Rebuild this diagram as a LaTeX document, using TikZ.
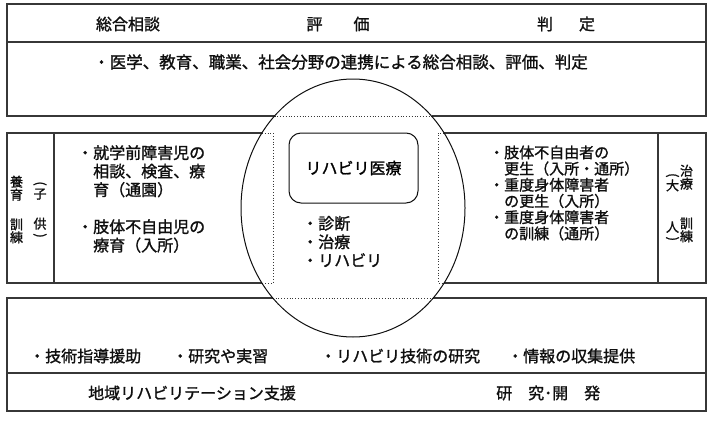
\documentclass[tikz,border=0pt]{standalone}
\usepackage{fontspec}
\setmainfont[FakeBold=1.3]{Noto Sans CJK JP}
\usepackage{graphicx}
\usepackage{tikz}
\usetikzlibrary{shapes.geometric}
\definecolor{framegray}{RGB}{55,55,55}
\definecolor{inkblack}{RGB}{15,15,15}
\tikzset{
  frame/.style={draw=framegray,line width=1.2pt},
  dotframe/.style={draw=framegray,line width=0.8pt,dotted},
  ring/.style={ellipse,draw=inkblack,line width=1pt,
    minimum width=224pt,minimum height=258pt,inner sep=0pt},
  medbox/.style={draw=inkblack,line width=1pt,rounded corners=12pt,
    minimum width=129pt,minimum height=70pt,inner sep=0pt,
    font=\fontsize{16}{18}\selectfont},
  head/.style={font=\fontsize{16}{18}\selectfont,inner sep=0pt,text=inkblack},
  txt/.style={font=\fontsize{16}{18.5}\selectfont,align=left,
    inner sep=0pt,text=inkblack},
  smalltxt/.style={font=\fontsize{15}{16.2}\selectfont,align=left,
    inner sep=0pt,text=inkblack},
  vlab/.style={font=\fontsize{13}{11}\selectfont,align=center,
    inner sep=0pt,text=inkblack}
}
\newcommand{\vopen}{\rotatebox[origin=c]{-90}{(}}
\newcommand{\vclose}{\rotatebox[origin=c]{-90}{)}}

\begin{document}
\begin{tikzpicture}[x=1pt,y=-1pt]
  \useasboundingbox (0,0) rectangle (714,423);
  % top box
  \draw[frame] (274.5,116) -- (7,116) -- (7,4) -- (706,4) -- (706,116) -- (431.5,116);
  \draw[dotframe] (274.5,116) -- (431.5,116);
  \draw[frame] (7,42) -- (706,42);
  % middle row
  \draw[frame] (262,133) -- (7,133) -- (7,283) -- (262,283);
  \draw[dotframe] (262,133) -- (273,133) -- (273,283) -- (262,283);
  \draw[frame] (54,133) -- (54,283);
  \draw[frame] (444,133) -- (706,133) -- (706,283) -- (444,283);
  \draw[dotframe] (444,133) -- (438,133) -- (438,283) -- (444,283);
  \draw[frame] (658,133) -- (658,283);
  % bottom box
  \draw[frame] (272.8,298) -- (7,298) -- (7,411) -- (706,411) -- (706,298) -- (433.2,298);
  \draw[dotframe] (272.8,298) -- (433.2,298);
  \draw[frame] (7,373) -- (706,373);
  % ellipse and medical box
  \node[ring] (ring) at (353,208) {};
  \node[medbox] (medical) at (353.5,168) {リハビリ医療};
  % top texts
  \node[head] (consult) at (128,24) {総合相談};
  \node[head] (assess) at (338,24) {評\hspace{31pt}価};
  \node[head] (judge) at (566,24) {判\hspace{26pt}定};
  \node[head,font=\fontsize{16.5}{18}\selectfont] (linkage) at (340.5,62)
    {・医学、教育、職業、社会分野の連携による総合相談、評価、判定};
  % middle texts
  \node[vlab] (childa) at (16.5,209.5) {養\\育\\[17pt]訓\\練};
  \node[vlab] (childb) at (40,210.5) {\vopen\\子\\[17pt]供\\\vclose};
  \node[txt,anchor=west] (childcare) at (77,199)
    {・就学前障害児の\\　相談、検査、療\\　育（通園）\\[18.5pt]・肢体不自由児の\\　療育（入所）};
  \node[txt,anchor=west] (treat) at (302,241.5) {・診断\\・治療\\・リハビリ};
  \node[smalltxt,anchor=west] (adultcare) at (489,193)
    {・肢体不自由者の\\　更生（入所・通所）\\・重度身体障害者\\　の更生（入所）\\・重度身体障害者\\　の訓練（通所）};
  \node[vlab] (adulta) at (672.5,208) {\vopen\\大\\[29pt]人\\\vclose};
  \node[vlab] (adultb) at (686.5,203.5) {治\\療\\[27pt]訓\\練};
  % bottom texts
  \node[txt,anchor=west] (guide) at (29,356) {・技術指導援助};
  \node[txt,anchor=west] (practice) at (172,356) {・研究や実習};
  \node[txt,anchor=west] (techres) at (320,356) {・リハビリ技術の研究};
  \node[txt,anchor=west] (info) at (507,356) {・情報の収集提供};
  \node[head,anchor=west] (support) at (88,393) {地域リハビリテーション支援};
  \node[head,anchor=west] (develop) at (496,393) {研\hspace{16pt}究･開\hspace{16pt}発};
\end{tikzpicture}
\end{document}
